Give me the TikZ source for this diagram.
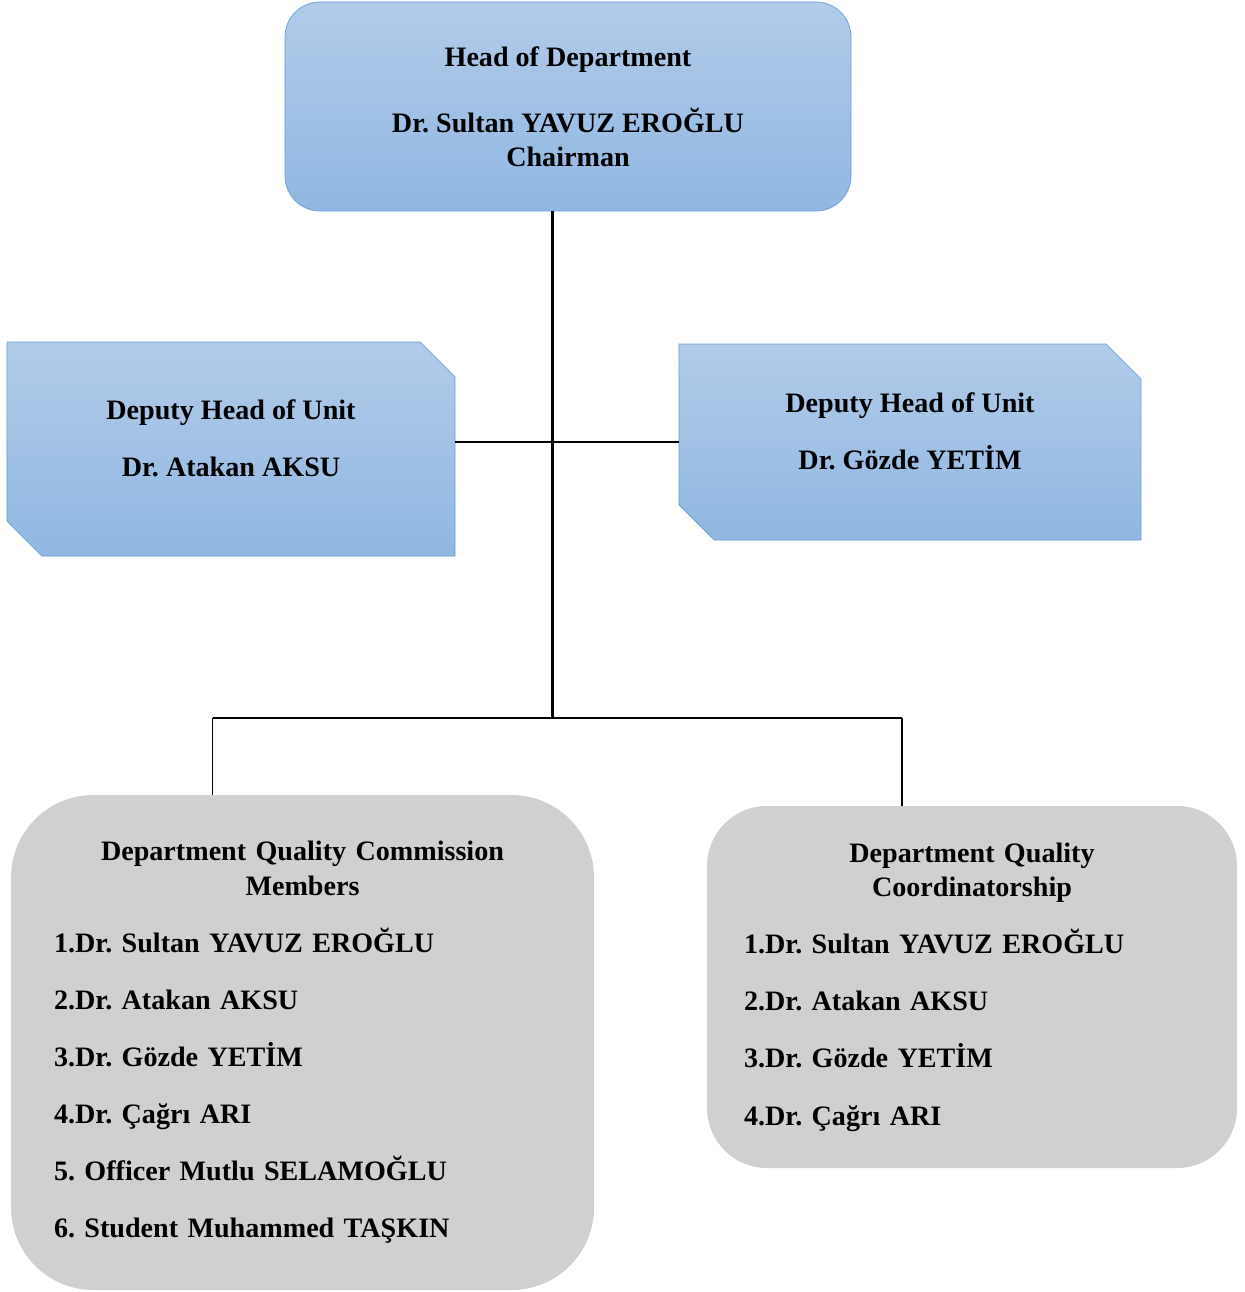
\documentclass[tikz,border=0pt]{standalone}
\usepackage{fontspec}
\setmainfont{Liberation Serif}
\usetikzlibrary{backgrounds}
\setlength{\parindent}{0pt}

\definecolor{unittop}{RGB}{178,203,233}
\definecolor{unitbot}{RGB}{144,183,226}
\definecolor{unitline}{RGB}{102,160,218}
\definecolor{boardgray}{RGB}{208,208,208}

\begin{document}
\begin{tikzpicture}[
    head/.style={rounded corners=0.7cm,draw=unitline,top color=unittop,bottom color=unitbot,
      align=center,minimum width=11.32cm,minimum height=4.18cm,outer sep=0pt},
    deputy/.style={align=center,inner sep=0pt,outer sep=0pt},
    deputyfill/.style={draw=unitline,top color=unittop,bottom color=unitbot},
    board/.style={rounded corners=#1,fill=boardgray,align=left,outer sep=0pt},
    trunk/.style={line width=1.7pt},
    link/.style={line width=0.8pt},
    font=\bfseries\fontsize{16}{19.5}\selectfont\frenchspacing
    ]
  \useasboundingbox (0,0) rectangle (24.88,-25.84);

  \node (head) [head] at (11.36,-2.13) {Head of Department\\[18pt]Dr. Sultan YAVUZ EROĞLU\\Chairman};

  \node (depL) [deputy,minimum width=8.96cm,minimum height=4.28cm] at (4.62,-8.98)
    {Deputy Head of Unit\\[13pt]Dr. Atakan AKSU\\[-7.5pt]\mbox{}};
  \node (depR) [deputy,minimum width=9.24cm,minimum height=3.92cm] at (18.2,-8.84)
    {Deputy Head of Unit\\[13pt]Dr. Gözde YETİM\\[-7.5pt]\mbox{}};

  % snipped corners behind the deputy texts
  \begin{scope}[on background layer]
    \foreach \n in {depL,depR}
      \path[deputyfill] (\n.north west) -- ([xshift=-0.7cm]\n.north east) -- ([yshift=-0.7cm]\n.north east)
        -- (\n.south east) -- ([xshift=0.7cm]\n.south west) -- ([yshift=0.7cm]\n.south west) -- cycle;
  \end{scope}

  \node (qcom) [board=1.65cm,text width=9.94cm,minimum width=11.66cm,minimum height=9.9cm] at (6.05,-20.85)
    {{\centering Department Quality Commission\\Members\par}\vspace{13pt}
     1.Dr. Sultan YAVUZ EROĞLU\\[13pt]
     2.Dr. Atakan AKSU\\[13pt]
     3.Dr. Gözde YETİM\\[13pt]
     4.Dr. Çağrı ARI\\[13pt]
     5. Officer Mutlu SELAMOĞLU\\[13pt]
     6. Student Muhammed TAŞKIN};
  \node (qcoord) [board=1.2cm,text width=9.12cm,minimum width=10.6cm,minimum height=7.24cm] at (19.44,-19.74)
    {{\centering Department Quality\\Coordinatorship\par}\vspace{13pt}
     1.Dr. Sultan YAVUZ EROĞLU\\[13pt]
     2.Dr. Atakan AKSU\\[13pt]
     3.Dr. Gözde YETİM\\[13pt]
     4.Dr. Çağrı ARI};

  \coordinate (hub) at (11.04,-14.36);
  \coordinate (dropL) at (4.25,-14.36);
  \coordinate (dropR) at (18.04,-14.36);

  \draw[link] (depL.east |- depR.west) -- (depR.west);
  \draw[trunk] (head.south -| hub) -- (hub);
  \draw[link] (dropL) -- (dropR);
  \draw[link] (dropL) -- (dropL |- qcom.north);
  \draw[link] (dropR) -- (dropR |- qcoord.north);

\end{tikzpicture}
\end{document}
